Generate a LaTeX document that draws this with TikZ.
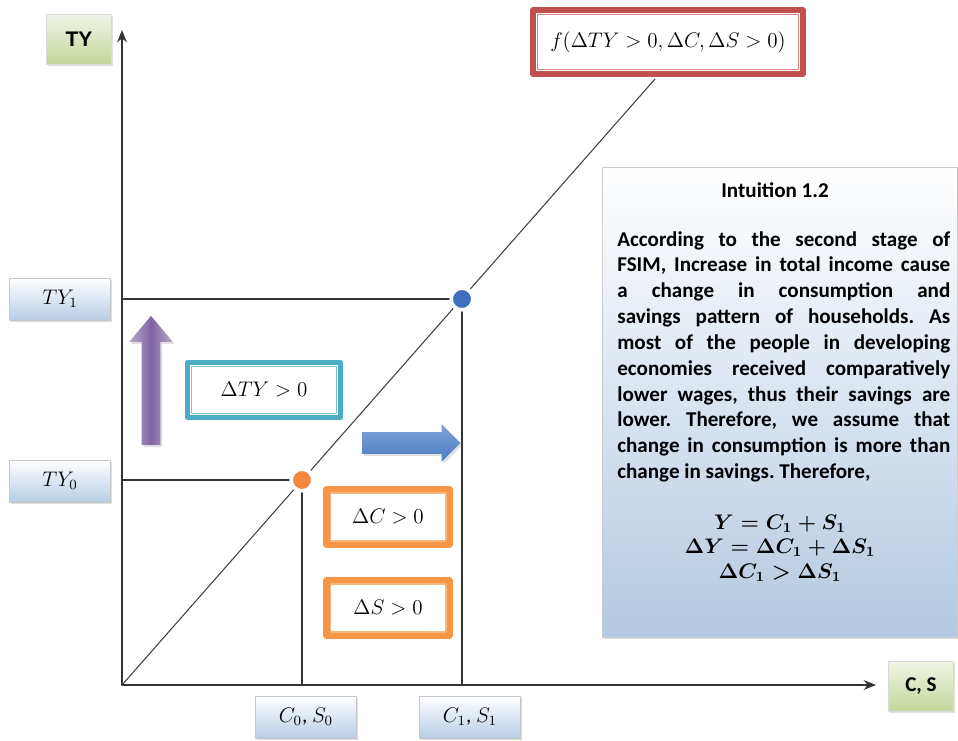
\documentclass[tikz,border=0pt]{standalone}
\usepackage{fontspec}
\setmainfont{Carlito}
\newfontfamily\arialfont{Liberation Sans}
\usetikzlibrary{arrows.meta,shapes.arrows,shadows}

\definecolor{boxred}{HTML}{C0504D}
\definecolor{boxteal}{HTML}{4BACC6}
\definecolor{boxorange}{HTML}{F79646}
\definecolor{dotblue}{HTML}{3E6FBF}
\definecolor{dotorange}{HTML}{F08A3C}
\definecolor{arrowblue}{HTML}{4A7CC4}
\definecolor{arrowpurple}{HTML}{8064A2}
\definecolor{labelblue}{HTML}{B9CDE5}
\definecolor{labelgreen}{HTML}{C3D69B}
\definecolor{panelblue}{HTML}{B4C9E2}

\tikzset{
  softshadow/.style={drop shadow={opacity=0.25,shadow xshift=1pt,shadow yshift=-1.2pt}},
  axislabel/.style={draw=gray!30, top color=labelgreen!25, bottom color=labelgreen,
    minimum width=1.3cm, minimum height=1.0cm, softshadow},
  vallabel/.style={draw=gray!45, top color=white, bottom color=labelblue,
    minimum width=2.02cm, minimum height=0.84cm, font=\large, softshadow},
  framebox/.style={draw=#1, line width=3pt, fill=white, font=\large},
  eqdot/.style={circle, draw=white, line width=2.2pt, minimum size=0.44cm, inner sep=0pt,
    drop shadow={opacity=0.35,shadow xshift=0.8pt,shadow yshift=-0.8pt}},
}

\begin{document}
\frenchspacing
\begin{tikzpicture}[x=0.02cm, y=-0.02cm, >={Stealth[length=7pt,width=5.5pt]}, line join=round, line cap=round, font=\large]
  % --- Picture frame ---
  \useasboundingbox (0,0) rectangle (958,741);

  % --- Axes ---
  \coordinate (O) at (122,685);
  \coordinate (ytip) at (122,30);
  \coordinate (xtip) at (876,685);
  \draw[->, black!80, line width=0.8pt] (O) -- (ytip);
  \draw[->, black!80, line width=0.8pt] (O) -- (xtip);
  \node[axislabel, font=\arialfont\bfseries\large] (ty) at (79,39) {TY};
  \node[axislabel, font=\bfseries\large] (cs) at (921,686) {C, S};

  % --- Income line ---
  \coordinate (ftop) at (655,79);
  \draw[black!75, line width=0.6pt] (O) -- (ftop);
  \node[framebox=boxred, minimum width=5.4cm, minimum height=1.28cm] (f) at (668,42)
    {$f(\Delta TY>0,\Delta C,\Delta S>0)$};

  % --- Equilibrium points ---
  \node[eqdot, fill=dotblue] (p1) at (462,299) {};
  \node[eqdot, fill=dotorange] (p0) at (302,480) {};
  \draw[black!80, line width=0.7pt] (O |- p1) -- (p1) -- (p1 |- O);
  \draw[black!80, line width=0.7pt] (O |- p0) -- (p0) -- (p0 |- O);

  % --- Axis values ---
  \node[vallabel] (ty1) at (60,299) {$TY_1$};
  \node[vallabel] (ty0) at (60,481) {$TY_0$};
  \node[vallabel] (cs0) at (306,717) {$C_0$, $S_0$};
  \node[vallabel] (cs1) at (470,717) {$C_1$, $S_1$};

  % --- Shift arrows ---
  \node[single arrow, shape border rotate=90, minimum height=2.58cm, minimum width=0.86cm,
    inner sep=0.18cm, single arrow head extend=0.25cm, single arrow tip angle=80,
    left color=arrowpurple!55, right color=arrowpurple!55, middle color=arrowpurple,
    softshadow] (up) at (151,386) {};
  \node[single arrow, minimum height=1.96cm, minimum width=0.74cm,
    inner sep=0.21cm, single arrow head extend=0.16cm, single arrow tip angle=90,
    top color=arrowblue!70, bottom color=arrowblue, softshadow] (right) at (406,443) {};

  % --- Changes ---
  \node[framebox=boxteal, minimum width=3.05cm, minimum height=1.1cm] (dty) at (264,390) {$\Delta TY>0$};
  \node[framebox=boxorange, line width=3.6pt, minimum width=2.46cm, minimum height=1.1cm] (dc) at (388,517) {$\Delta C>0$};
  \node[framebox=boxorange, line width=3.6pt, minimum width=2.46cm, minimum height=1.1cm] (ds) at (388,608) {$\Delta S>0$};
  \foreach \b/\c in {f/boxred, dty/boxteal, dc/boxorange, ds/boxorange}
    \draw[\c!70, line width=0.6pt] ([shift={(3.8pt,-3.8pt)}]\b.north west) rectangle ([shift={(-3.8pt,3.8pt)}]\b.south east);

  % --- Intuition panel ---
  \node[draw=gray!40, top color=white, bottom color=panelblue, minimum width=7.1cm,
    minimum height=9.4cm, softshadow] (panel) at (780,402) {};
  \node[font=\bfseries\fontsize{12}{14}\selectfont] (title) at (775,190) {Intuition 1.2};
  \node[anchor=north west, text width=6.66cm, align=justify, inner sep=0pt,
    font=\bfseries\fontsize{12}{14.7}\selectfont] (body) at (617,231)
    {According to the second stage of\linebreak
     FSIM, Increase in total income cause\linebreak
     a change in consumption and\linebreak
     savings pattern of households. As\linebreak
     most of the people in developing\linebreak
     economies received comparatively\linebreak
     lower wages, thus their savings are\linebreak
     lower. Therefore, we assume that\linebreak
     change in consumption is more than\linebreak
     change in savings. Therefore,};
  \node[align=center, font=\large\boldmath] (eqs) at (780,548)
    {$Y=C_1+S_1$\\ $\Delta Y=\Delta C_1+\Delta S_1$\\ $\Delta C_1>\Delta S_1$};
\end{tikzpicture}
\end{document}
